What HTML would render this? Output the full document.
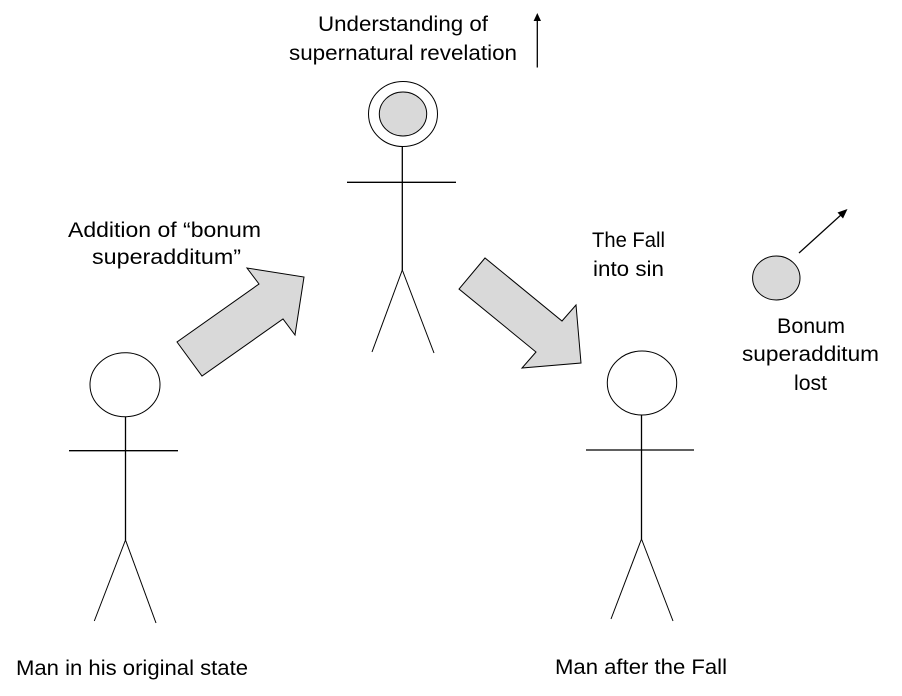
<!DOCTYPE html>
<html>
<head>
<meta charset="utf-8">
<style>
html,body{margin:0;padding:0;background:#fff;}
svg{display:block;}
text{font-family:"Liberation Sans",Arial,sans-serif;font-size:21.5px;fill:#000;}
</style>
</head>
<body>
<svg width="902" height="696" viewBox="0 0 902 696" xmlns="http://www.w3.org/2000/svg">
  <rect width="902" height="696" fill="#fff"/>

  <!-- Top text -->
  <text x="318" y="31" textLength="170" lengthAdjust="spacingAndGlyphs">Understanding of</text>
  <text x="289" y="60" textLength="228" lengthAdjust="spacingAndGlyphs">supernatural revelation</text>

  <!-- small up arrow -->
  <line x1="537.3" y1="67.5" x2="537.3" y2="20" stroke="#000" stroke-width="1.3"/>
  <polygon points="537.3,13 533.6,21 541,21" fill="#000"/>

  <!-- Middle figure -->
  <ellipse cx="403" cy="114" rx="34.5" ry="32.5" fill="#fff" stroke="#000" stroke-width="1"/>
  <ellipse cx="403" cy="114" rx="23.7" ry="22" fill="#d9d9d9" stroke="#000" stroke-width="1"/>
  <line x1="402.3" y1="146.5" x2="402.3" y2="270" stroke="#000" stroke-width="1.3"/>
  <line x1="347" y1="182.3" x2="456" y2="182.3" stroke="#000" stroke-width="1.3"/>
  <line x1="402.3" y1="270" x2="372" y2="352" stroke="#000" stroke-width="1"/>
  <line x1="402.3" y1="270" x2="434" y2="353" stroke="#000" stroke-width="1"/>

  <!-- Left text -->
  <text x="68" y="237" textLength="193" lengthAdjust="spacingAndGlyphs">Addition of “bonum</text>
  <text x="92" y="264" textLength="149" lengthAdjust="spacingAndGlyphs">superadditum”</text>

  <!-- Left block arrow -->
  <polygon points="177,342 202,376 283,319 295,335 304,277 247,268 259,284" fill="#d9d9d9" stroke="#000" stroke-width="1"/>

  <!-- Right block arrow -->
  <polygon points="485,258 459,289 536,352 522,368 581,363 576,305 562,321" fill="#d9d9d9" stroke="#000" stroke-width="1"/>

  <!-- The Fall text -->
  <text x="592" y="247" textLength="73" lengthAdjust="spacingAndGlyphs">The Fall</text>
  <text x="593" y="276" textLength="71" lengthAdjust="spacingAndGlyphs">into sin</text>

  <!-- Lost bonum -->
  <ellipse cx="776.3" cy="278" rx="23.7" ry="22" fill="#d9d9d9" stroke="#000" stroke-width="1"/>
  <line x1="799" y1="253" x2="842" y2="214" stroke="#000" stroke-width="1.2"/>
  <polygon points="847.5,209 837.5,212.5 843,218.5" fill="#000"/>
  <text x="777" y="333" textLength="68" lengthAdjust="spacingAndGlyphs">Bonum</text>
  <text x="742" y="361" textLength="137" lengthAdjust="spacingAndGlyphs">superadditum</text>
  <text x="794" y="390" textLength="33" lengthAdjust="spacingAndGlyphs">lost</text>

  <!-- Left figure -->
  <ellipse cx="125" cy="384.7" rx="35" ry="32" fill="#fff" stroke="#000" stroke-width="1"/>
  <line x1="125.5" y1="416.7" x2="125.5" y2="540" stroke="#000" stroke-width="1.3"/>
  <line x1="69" y1="450.7" x2="178" y2="450.7" stroke="#000" stroke-width="1.3"/>
  <line x1="125.5" y1="540" x2="94.3" y2="621" stroke="#000" stroke-width="1"/>
  <line x1="125.5" y1="540" x2="156" y2="623" stroke="#000" stroke-width="1"/>

  <!-- Right figure -->
  <ellipse cx="642" cy="383" rx="34.7" ry="32" fill="#fff" stroke="#000" stroke-width="1"/>
  <line x1="641.5" y1="415" x2="641.5" y2="539" stroke="#000" stroke-width="1.3"/>
  <line x1="586" y1="450" x2="694" y2="450" stroke="#000" stroke-width="1.3"/>
  <line x1="641.5" y1="539" x2="611" y2="619" stroke="#000" stroke-width="1"/>
  <line x1="641.5" y1="539" x2="673" y2="621" stroke="#000" stroke-width="1"/>

  <!-- Bottom labels -->
  <text x="16" y="675" textLength="232" lengthAdjust="spacingAndGlyphs">Man in his original state</text>
  <text x="555" y="674" textLength="172" lengthAdjust="spacingAndGlyphs">Man after the Fall</text>
</svg>
</body>
</html>
